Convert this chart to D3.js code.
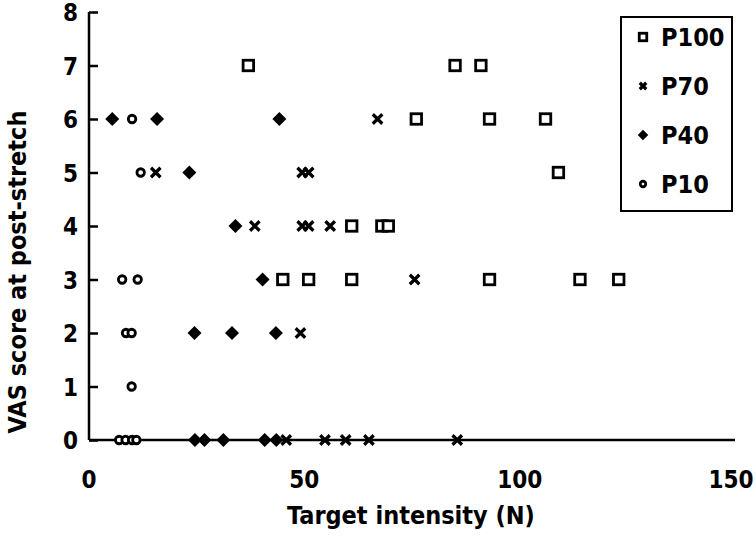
<!DOCTYPE html>
<html>
<head>
<meta charset="utf-8">
<script src="https://cdn.jsdelivr.net/npm/d3@7"></script>
<style>
  body { margin: 0; background: #fff; }
  text { font-family: "Liberation Sans Narrow", "DejaVu Sans Condensed", "Liberation Sans", sans-serif; font-weight: bold; }
</style>
</head>
<body>
<svg id="chart" width="756" height="536"></svg>
<script>
// values
var p100_x = [37, 85, 91, 76, 93, 106, 109, 61, 68, 69.5, 45, 51, 61, 93, 114, 123];
var p100_y = [7, 7, 7, 6, 6, 6, 5, 4, 4, 4, 3, 3, 3, 3, 3, 3];

var p70_x = [67, 15.5, 49.5, 51, 38.5, 49.5, 51, 56, 75.6, 49.1, 45.8, 54.8, 59.6, 65, 85.5];
var p70_y = [6, 5, 5, 5, 4, 4, 4, 4, 3, 2, 0, 0, 0, 0, 0];

var p40_x = [5.4, 15.8, 44.2, 23.3, 34, 40.3, 24.5, 33.2, 43.4, 24.6, 26.8, 31.2, 40.8, 43.5];
var p40_y = [6, 6, 6, 5, 4, 3, 2, 2, 2, 0, 0, 0, 0, 0];

var p10_x = [10, 12, 7.7, 11.3, 8.6, 9.9, 9.9, 7, 8.5, 10, 11];
var p10_y = [6, 5, 3, 3, 2, 2, 1, 0, 0, 0, 0];

var xTicks = [0, 50, 100, 150];
var yTicks = [0, 1, 2, 3, 4, 5, 6, 7, 8];

var series = [
    {name: "P100", xs: p100_x, ys: p100_y, shape: "square"},
    {name: "P70", xs: p70_x, ys: p70_y, shape: "cross"},
    {name: "P40", xs: p40_x, ys: p40_y, shape: "diamond"},
    {name: "P10", xs: p10_x, ys: p10_y, shape: "circle"}
];

var svg = d3.select("#chart");
var plotL = 89, plotR = 735, plotT = 12, plotB = 440;

var x = d3.scaleLinear().domain([0, 150]).range([plotL, plotR]);
var y = d3.scaleLinear().domain([0, 8]).range([plotB, plotT]);

// y axis, ticks pointing inward
var yAxis = svg.append("g")
    .attr("transform", "translate(" + plotL + ",0)")
    .call(d3.axisRight(y).tickValues(yTicks).tickSize(9).tickFormat(""));
yAxis.selectAll("line, path").attr("stroke", "#000").attr("stroke-width", 2.5);
yAxis.select(".domain").attr("d", "M0," + plotT + "V" + plotB);

svg.append("g").selectAll("text")
    .data(yTicks).enter().append("text")
    .attr("x", 78).attr("y", d => y(d) + 1)
    .attr("text-anchor", "end").attr("dominant-baseline", "central")
    .style("font-size", "24px")
    .text(d => d);

// x axis, no ticks
var xAxis = svg.append("g")
    .attr("transform", "translate(0," + plotB + ")")
    .call(d3.axisBottom(x).tickValues(xTicks).tickSize(0).tickFormat(""));
xAxis.select(".domain").attr("stroke", "#000").attr("stroke-width", 2.5)
    .attr("d", "M" + plotL + ",0H" + plotR);

svg.append("g").selectAll("text")
    .data(xTicks).enter().append("text")
    .attr("x", d => x(d) - (d === 150 ? 4 : 0)).attr("y", 488)
    .attr("text-anchor", "middle")
    .style("font-size", "24px")
    .text(d => d);

// axis titles
svg.append("text")
    .attr("x", 411).attr("y", 524)
    .attr("text-anchor", "middle")
    .style("font-size", "25px")
    .text("Target intensity (N)");

svg.append("text")
    .attr("transform", "translate(26,272) rotate(-90)")
    .attr("text-anchor", "middle")
    .style("font-size", "25px")
    .text("VAS score at post-stretch");

// marker drawing
var drawMarker = function(g, shape, s) {
    if (shape === "square") {
        g.append("rect").attr("x", -s / 2).attr("y", -s / 2).attr("width", s).attr("height", s)
            .attr("fill", "#fff").attr("stroke", "#000").attr("stroke-width", 2.8);
    } else if (shape === "cross") {
        var h = s / 2;
        g.append("path").attr("d", "M" + -h + "," + -h + "L" + h + "," + h + "M" + h + "," + -h + "L" + -h + "," + h)
            .attr("stroke", "#000").attr("stroke-width", 3.2).attr("fill", "none");
    } else if (shape === "diamond") {
        var d = s / 2 + 1.5;
        g.append("path").attr("d", "M0," + -d + "L" + d + ",0L0," + d + "L" + -d + ",0Z")
            .attr("fill", "#000");
    } else {
        g.append("circle").attr("r", s / 2 - 1).attr("fill", "#fff")
            .attr("stroke", "#000").attr("stroke-width", 2.8);
    }
}

var sizes = {square: 10.5, cross: 9.5, diamond: 11, circle: 9.5};

series.forEach(function(sr) {
    var pts = sr.xs.map((v, i) => ({x: v, y: sr.ys[i]}));
    var grp = svg.append("g").attr("class", "series " + sr.name);
    pts.forEach(function(p) {
        var g = grp.append("g").attr("transform", "translate(" + x(p.x) + "," + y(p.y) + ")");
        drawMarker(g, sr.shape, sizes[sr.shape]);
    });
});

// legend
var legend = svg.append("g");
legend.append("rect").attr("x", 621).attr("y", 17).attr("width", 111).attr("height", 194)
    .attr("fill", "#fff").attr("stroke", "#000").attr("stroke-width", 2);

var legSizes = {square: 7.5, cross: 6.5, diamond: 7.5, circle: 7.5};
series.forEach(function(sr, i) {
    var cy = 37 + i * 49;
    var g = legend.append("g").attr("transform", "translate(643," + cy + ")");
    drawMarker(g, sr.shape, legSizes[sr.shape]);
    legend.append("text").attr("x", 661).attr("y", cy)
        .attr("dominant-baseline", "central")
        .style("font-size", "25px")
        .text(sr.name);
});
</script>
</body>
</html>
